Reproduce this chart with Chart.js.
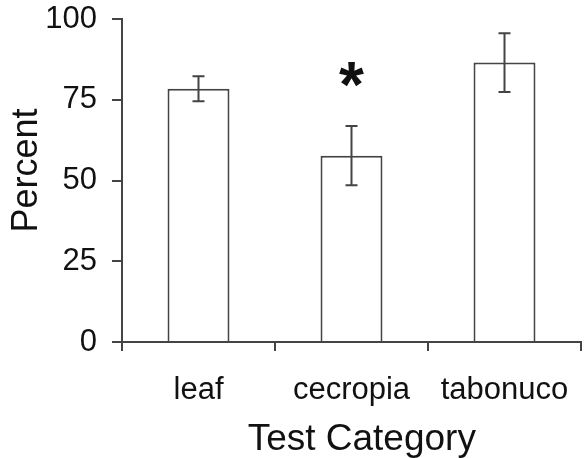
<!DOCTYPE html>
<html>
<head>
<meta charset="utf-8">
<script src="https://cdn.jsdelivr.net/npm/chart.js@4"></script>
<style>
  html, body { margin: 0; padding: 0; background: #fff; }
  #wrap { width: 586px; height: 458px; }
</style>
</head>
<body>
<div id="wrap"><canvas id="barChart" width="586" height="458"></canvas></div>
<script>
const categories = ['leaf', 'cecropia', 'tabonuco'];
const percentValues = [78.4, 57.7, 86.5];
const errorValues = [3.9, 9.2, 9.1];
const significance = ['', '*', ''];
const yTicks = [0, 25, 50, 75, 100];

const inkColor = '#444444';
const fontFamily = '"Liberation Sans", Arial, sans-serif';

// error bars and the significance star, drawn from the scales
const errorBarPlugin = {
  id: 'errorBars',
  afterDatasetsDraw(chart) {
    const ctx = chart.ctx;
    const xScale = chart.scales.x;
    const yScale = chart.scales.y;
    ctx.save();
    ctx.strokeStyle = inkColor;
    ctx.lineWidth = 2;
    percentValues.forEach((value, i) => {
      const x = xScale.getPixelForValue(i);
      const yTop = yScale.getPixelForValue(value + errorValues[i]);
      const yBottom = yScale.getPixelForValue(value - errorValues[i]);
      ctx.beginPath();
      ctx.moveTo(x, yTop);
      ctx.lineTo(x, yBottom);
      ctx.moveTo(x - 6, yTop);
      ctx.lineTo(x + 6, yTop);
      ctx.moveTo(x - 6, yBottom);
      ctx.lineTo(x + 6, yBottom);
      ctx.stroke();

      if (significance[i]) {
        ctx.fillStyle = '#111';
        ctx.font = 'bold 64px ' + fontFamily;
        ctx.textAlign = 'center';
        ctx.textBaseline = 'alphabetic';
        const m = ctx.measureText(significance[i]);
        const centerY = yScale.getPixelForValue(value + errorValues[i] + 16);
        const baseY = centerY + (m.actualBoundingBoxAscent - m.actualBoundingBoxDescent) / 2;
        ctx.fillText(significance[i], x, baseY);
      }
    });
    ctx.restore();
  }
};

const ctx = document.getElementById('barChart').getContext('2d');
new Chart(ctx, {
  type: 'bar',
  data: {
    labels: categories,
    datasets: [{
      data: percentValues,
      backgroundColor: '#ffffff',
      borderColor: inkColor,
      borderWidth: 2,
      categoryPercentage: 1,
      barPercentage: 0.405
    }]
  },
  options: {
    responsive: false,
    animation: false,
    layout: { padding: { top: 19, right: 5, left: 0, bottom: 0 } },
    plugins: { legend: { display: false }, tooltip: { enabled: false } },
    scales: {
      x: {
        offset: true,
        grid: { display: true, drawOnChartArea: false, offset: true, tickLength: 9, color: inkColor, lineWidth: 2 },
        border: { display: true, color: inkColor, width: 2 },
        ticks: { color: '#111', padding: 21, font: { family: fontFamily, size: 31 } },
        title: {
          display: true,
          text: '  Test Category',
          color: '#111',
          font: { family: fontFamily, size: 37, lineHeight: 1 },
          padding: { top: 4, bottom: 0 }
        },
        afterFit(scale) {
          scale.height = 116;
          scale.paddingLeft = 0;
          scale.paddingRight = 0;
        }
      },
      y: {
        min: 0,
        max: 100,
        afterBuildTicks(scale) { scale.ticks = yTicks.map(v => ({ value: v })); },
        grid: { display: true, drawOnChartArea: false, tickLength: 10, color: inkColor, lineWidth: 2 },
        border: { display: true, color: inkColor, width: 2 },
        ticks: { color: '#111', padding: 15, font: { family: fontFamily, size: 31 } },
        title: {
          display: true,
          text: '  Percent',
          color: '#111',
          font: { family: fontFamily, size: 36, lineHeight: 1 },
          padding: { top: 9, bottom: 0 }
        },
        afterFit(scale) {
          scale.width = 122;
          scale.paddingTop = 0;
          scale.paddingBottom = 0;
        }
      }
    }
  },
  plugins: [errorBarPlugin]
});
</script>
</body>
</html>
